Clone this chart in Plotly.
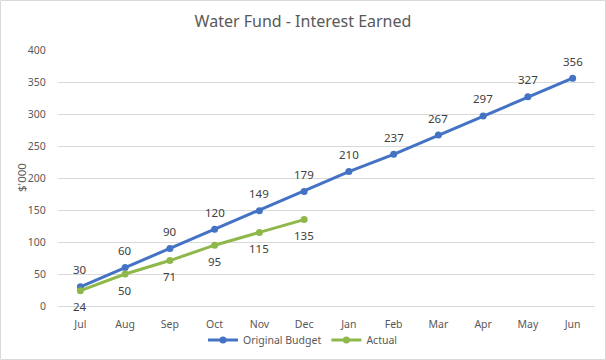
import plotly.graph_objects as go

months = ["Jul", "Aug", "Sep", "Oct", "Nov", "Dec", "Jan", "Feb", "Mar", "Apr", "May", "Jun"]
budget = [30, 60, 90, 120, 149, 179, 210, 237, 267, 297, 327, 356]
actual_months = ["Jul", "Aug", "Sep", "Oct", "Nov", "Dec"]
actual = [24, 50, 71, 95, 115, 135]

FONT = "Noto Sans"
GREY = "#595959"
LABEL = "#404040"
BLUE = "#4472C4"
GREEN = "#8FB84B"

fig = go.Figure()
fig.add_trace(go.Scatter(
    x=months, y=budget, name="Original Budget", mode="lines+markers",
    line=dict(color=BLUE, width=3), marker=dict(size=7, color=BLUE),
))
fig.add_trace(go.Scatter(
    x=actual_months, y=actual, name="Actual", mode="lines+markers",
    line=dict(color=GREEN, width=3), marker=dict(size=7, color=GREEN),
))

annotations = []
for m, v in zip(months, budget):
    annotations.append(dict(x=m, y=v, text=str(v), showarrow=False, yshift=17,
                            font=dict(family=FONT, size=11.5, color=LABEL)))
for m, v in zip(actual_months, actual):
    annotations.append(dict(x=m, y=v, text=str(v), showarrow=False, yshift=-16,
                            font=dict(family=FONT, size=11.5, color=LABEL)))

W, H = 606, 360
l, r, t, b = 58, 11, 50, 54
pw, ph = W - l - r, H - t - b

annotations.append(dict(text="$'000", xref="paper", yref="paper",
                        x=-(l - 21) / pw, y=0.5, textangle=-90, showarrow=False,
                        xanchor="center", yanchor="middle",
                        font=dict(family=FONT, size=11.5, color=GREY)))

fig.update_layout(
    width=W, height=H,
    margin=dict(l=l, r=r, t=t, b=b, autoexpand=False),
    paper_bgcolor="white", plot_bgcolor="white",
    title=dict(text="Water Fund - Interest Earned", x=0.5, xanchor="center",
               xref="container", yref="container",
               y=1 - 21 / H, yanchor="middle",
               font=dict(family=FONT, size=16, color=GREY)),
    font=dict(family=FONT, size=11, color=GREY),
    xaxis=dict(categoryorder="array", categoryarray=months, showgrid=False,
               showline=False, ticks="outside", ticklen=8, tickcolor="rgba(0,0,0,0)",
               range=[-0.5, 11.5], automargin=False,
               tickfont=dict(family=FONT, size=10.5, color=GREY)),
    yaxis=dict(range=[0, 400], dtick=50, showgrid=True, gridcolor="#d9d9d9",
               gridwidth=1, zeroline=True, zerolinecolor="#d9d9d9", zerolinewidth=1,
               ticks="outside", ticklen=9, tickcolor="rgba(0,0,0,0)", automargin=False,
               tickfont=dict(family=FONT, size=10.5, color=GREY)),
    legend=dict(orientation="h", x=0.5, xanchor="center", xref="container",
                yref="container", y=20 / H, yanchor="middle",
                bgcolor="rgba(0,0,0,0)", borderwidth=0,
                font=dict(family=FONT, size=10.5, color=GREY),
                itemwidth=30, tracegroupgap=0),
    showlegend=True,
    annotations=annotations,
    shapes=[dict(type="rect", xref="paper", yref="paper",
                 x0=-(l - 0.5) / pw, x1=1 + (r - 0.5) / pw,
                 y0=-(b - 0.5) / ph, y1=1 + (t - 0.5) / ph,
                 line=dict(color="#d9d9d9", width=1), layer="below")],
)

fig.write_html("out.html", config={"displayModeBar": False},
               post_script="document.body.style.margin='0';")
